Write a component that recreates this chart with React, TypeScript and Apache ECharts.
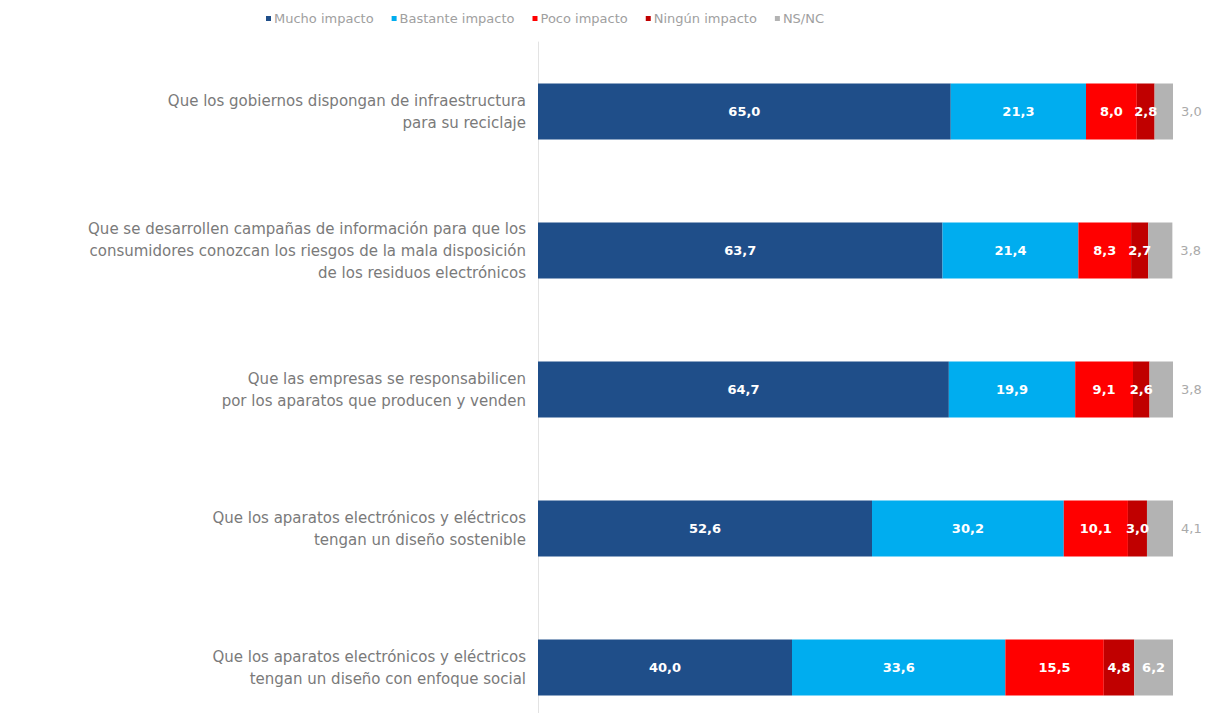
import React, { useEffect, useRef } from "react";
import * as echarts from "echarts";

const categories = [
  "Que los gobiernos dispongan de infraestructura\npara su reciclaje",
  "Que se desarrollen campañas de información para que los\nconsumidores conozcan los riesgos de la mala disposición\nde los residuos electrónicos",
  "Que las empresas se responsabilicen\npor los aparatos que producen y venden",
  "Que los aparatos electrónicos y eléctricos\ntengan un diseño sostenible",
  "Que los aparatos electrónicos y eléctricos\ntengan un diseño con enfoque social",
];

const seriesNames = ["Mucho impacto", "Bastante impacto", "Poco impacto", "Ningún impacto", "NS/NC"];
const mucho = [65.0, 63.7, 64.7, 52.6, 40.0];
const bastante = [21.3, 21.4, 19.9, 30.2, 33.6];
const poco = [8.0, 8.3, 9.1, 10.1, 15.5];
const ninguno = [2.8, 2.7, 2.6, 3.0, 4.8];
const nsnc = [3.0, 3.8, 3.8, 4.1, 6.2];
const nsncInside = [false, false, false, false, true];

const colors = ["#1f4e89", "#00adef", "#ff0000", "#c00000", "#b3b3b3"];

const fmt = (v: number) => v.toFixed(1).replace(".", ",");

export default function App() {
  const ref = useRef<HTMLDivElement>(null);
  useEffect(() => {
    if (!ref.current) return;
    const chart = echarts.init(ref.current, undefined, { renderer: "svg" });
    const values = [mucho, bastante, poco, ninguno];
    const labelStyle = {
      show: true,
      position: "inside",
      color: "#ffffff",
      fontFamily: "DejaVu Sans",
      fontSize: 13,
      fontWeight: "bold",
      formatter: (p: any) => fmt(p.value),
    };
    const series: any[] = values.map((arr, i) => ({
      name: seriesNames[i],
      type: "bar",
      stack: "total",
      barWidth: 56,
      itemStyle: { color: colors[i] },
      label: labelStyle,
      data: arr,
    }));
    series.push({
      name: seriesNames[4],
      type: "bar",
      stack: "total",
      barWidth: 56,
      itemStyle: { color: colors[4] },
      label: labelStyle,
      data: nsnc.map((v, i) =>
        nsncInside[i]
          ? { value: v }
          : {
              value: v,
              label: { position: "right", color: "#aaaaaa", fontWeight: "normal", distance: 8 },
            }
      ),
    });
    chart.setOption({
      animation: false,
      backgroundColor: "#ffffff",
      legend: {
        data: seriesNames,
        top: 7,
        left: 261,
        icon: "rect",
        itemWidth: 5,
        itemHeight: 5,
        itemGap: 18,
        textStyle: { fontSize: 13, color: "#a0a0a0", fontFamily: "DejaVu Sans", padding: [0, 0, 0, -2] },
      },
      grid: { left: 538, top: 42, width: 635, height: 695, containLabel: false },
      xAxis: { type: "value", min: 0, max: 100, show: false },
      yAxis: {
        type: "category",
        data: categories,
        inverse: true,
        axisLine: { show: true, lineStyle: { color: "#e3e3e3", width: 1 } },
        axisTick: { show: false },
        axisLabel: {
          color: "#7a7a7a",
          fontSize: 15,
          fontFamily: "DejaVu Sans",
          lineHeight: 22,
          margin: 12,
          align: "right",
        },
      },
      series,
    });
    return () => chart.dispose();
  }, []);
  return (
    <div style={{ width: 1222, height: 713, position: "absolute", left: 0, top: 0, overflow: "hidden" }}>
      <div ref={ref} style={{ width: 1222, height: 760 }} />
    </div>
  );
}
